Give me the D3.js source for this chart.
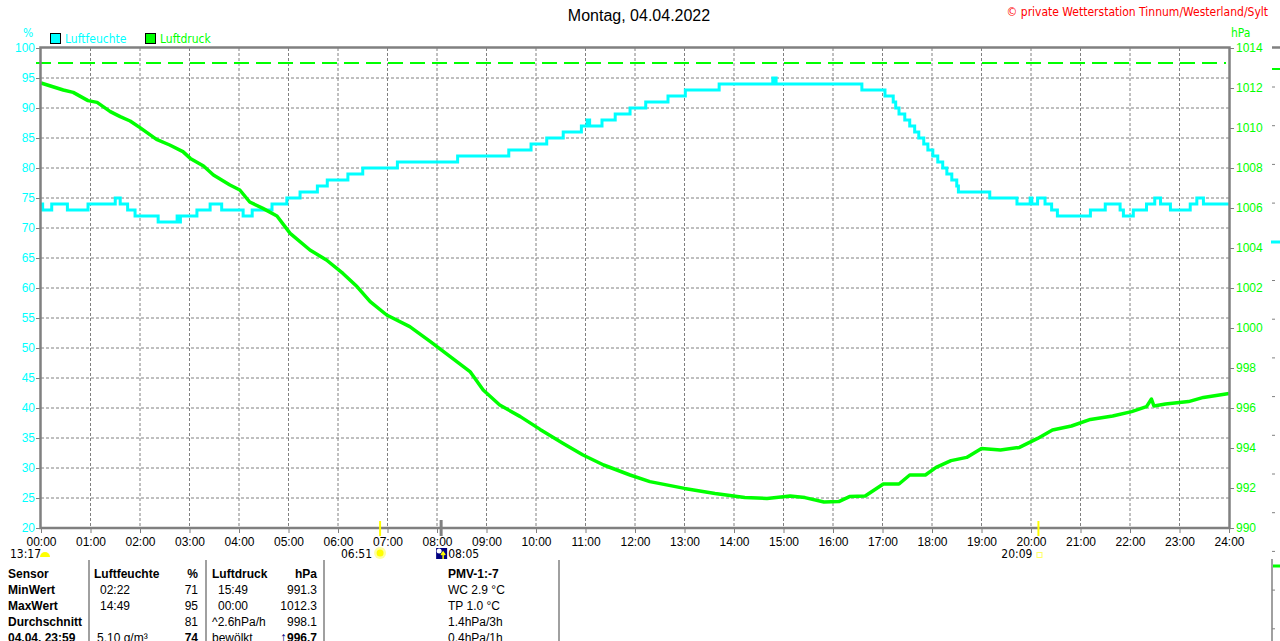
<!DOCTYPE html>
<html lang="de">
<head>
<meta charset="utf-8">
<title>Luftfeuchte / Luftdruck - Montag, 04.04.2022</title>
<script src="https://cdn.jsdelivr.net/npm/d3@7"></script>
<style>
  body { margin: 0; background: #fff; overflow: hidden; }
  svg text { font-family: "Liberation Sans", Arial, sans-serif; }
  .narrow { font-family: "Liberation Sans Narrow", "DejaVu Sans Condensed", "Liberation Sans", sans-serif !important; }
</style>
</head>
<body>
<script>

// ---- data ----
var title = "Montag, 04.04.2022";
var credit = "\u00a9 private Wetterstation Tinnum/Westerland/Sylt";

var hourTicks = d3.range(0, 25);           // 00:00 .. 24:00
var humTicks = d3.range(20, 101, 5);       // %
var presTicks = d3.range(990, 1015, 2);    // hPa
var presRef = 1013.25;                     // dashed reference line

// Luftfeuchte (step series, change points)
var humTimes = ["00:00","00:02","00:13","00:32","00:57","01:30","01:36","01:45","01:54","02:22",
  "02:45","02:47","02:49","03:09","03:25","03:39","04:05","04:16","04:40","04:58",
  "05:14","05:35","05:47","06:12","06:30","07:12","08:25","09:27","09:54","10:13",
  "10:33","10:55","11:02","11:05","11:20","11:36","11:54","12:13","12:40","13:01",
  "13:42","14:47","14:48","14:50","14:51","16:35","17:03","17:13","17:16","17:20",
  "17:27","17:33","17:39","17:44","17:50","17:55","18:01","18:07","18:13","18:18",
  "18:24","18:30","18:32","19:10","19:43","19:59","20:01","20:08","20:17","20:25",
  "20:32","21:12","21:30","21:48","21:52","22:04","22:20","22:30","22:37","22:49",
  "23:13","23:21","23:29","24:00"];
var humValues = [74,73,74,73,74,75,74,73,72,71,
  72,71,72,73,74,73,72,73,74,75,
  76,77,78,79,80,81,82,83,84,85,
  86,87,88,87,88,89,90,91,92,93,
  94,95,94,95,94,93,92,91,90,89,
  88,87,86,85,84,83,82,81,80,79,
  78,77,76,75,74,75,74,75,74,73,
  72,73,74,73,72,73,74,75,74,73,
  74,75,74,74];

// Luftdruck
var presTimes = ["00:00","00:27","00:39","00:57","01:08","01:24","01:36","01:48","02:00","02:20",
  "02:36","02:52","03:01","03:17","03:29","03:49","04:01","04:13","04:29","04:46",
  "05:02","05:26","05:46","06:06","06:23","06:39","06:59","07:27","07:52","08:16",
  "08:40","08:56","09:16","09:41","10:05","10:33","10:57","11:22","11:54","12:18",
  "13:00","13:37","14:13","14:40","15:08","15:26","15:49","16:07","16:20","16:39",
  "17:01","17:20","17:33","17:52","18:05","18:23","18:42","19:00","19:23","19:46",
  "20:08","20:26","20:49","21:12","21:39","22:02","22:20","22:26","22:29","22:43",
  "23:11","23:29","24:00"];
var presValues = [1012.25,1011.9,1011.78,1011.37,1011.28,1010.82,1010.57,1010.35,1010.02,1009.43,
  1009.15,1008.82,1008.48,1008.1,1007.65,1007.15,1006.9,1006.3,1005.98,1005.6,
  1004.73,1003.9,1003.4,1002.73,1002.07,1001.32,1000.65,1000.07,999.32,998.57,
  997.82,996.9,996.15,995.57,994.93,994.23,993.65,993.15,992.65,992.32,
  991.98,991.73,991.53,991.48,991.6,991.52,991.3,991.32,991.57,991.6,
  992.2,992.2,992.65,992.65,993.03,993.37,993.53,993.98,993.9,994.03,
  994.48,994.9,995.1,995.43,995.6,995.82,996.07,996.45,996.1,996.2,
  996.32,996.53,996.73];

// Sonne / Mond
var sunrise = "06:51", sunset = "20:09", moonrise = "08:05", moonset = "13:17";

// Tabelle unter der Grafik
var tableHead = ["Sensor", "Luftfeuchte", "%", "Luftdruck", "hPa", "PMV-1:-7"];
var tableRows = [
  ["MinWert", "02:22", "71", "15:49", "991.3", "WC 2.9 \u00b0C"],
  ["MaxWert", "14:49", "95", "00:00", "1012.3", "TP 1.0 \u00b0C"],
  ["Durchschnitt", "", "81", "^2.6hPa/h", "998.1", "1.4hPa/3h"],
  ["04.04.  23:59", "5.10 g/m\u00b3", "74", "bew\u00f6lkt", "996.7", "0.4hPa/1h"]
];
var trendArrow = "\u2191";   // in front of the current pressure

// ---- setup ----
var w = 1280, h = 641;
var cyan = "#00ffff", green = "#00ff00", grey = "#808080";

var toMin = function(s) { return +s.slice(0, 2) * 60 + +s.slice(3); };
var pad = function(n) { return (n < 10 ? "0" : "") + n; };

var x = d3.scaleLinear().domain([0, 1440]).range([41, 1229]);
var yH = d3.scaleLinear().domain([20, 100]).range([528, 48]);
var yP = d3.scaleLinear().domain([990, 1014]).range([528, 48]);

var svg = d3.select("body").append("svg")
  .attr("width", w).attr("height", h);

// title + credit
svg.append("text").attr("x", 639).attr("y", 21)
  .attr("text-anchor", "middle").attr("font-size", 16).attr("fill", "#000")
  .text(title);
svg.append("text").attr("class", "narrow").attr("x", 1268).attr("y", 16)
  .attr("text-anchor", "end").attr("font-size", 12).attr("fill", "#ff0000")
  .text(credit);

// unit labels
svg.append("text").attr("class", "narrow").attr("x", 23).attr("y", 37)
  .attr("font-size", 12).attr("fill", cyan).text("%");
svg.append("text").attr("class", "narrow").attr("x", 1231).attr("y", 37)
  .attr("font-size", 12).attr("fill", green).text("hPa");

// legend
var legend = [{ name: "Luftfeuchte", color: cyan, x: 50 }, { name: "Luftdruck", color: green, x: 145 }];
var lg = svg.selectAll(".legend").data(legend).enter().append("g")
  .attr("transform", function(d) { return "translate(" + d.x + ",33)"; });
lg.append("rect").attr("x", 0.5).attr("y", 0.5).attr("width", 10).attr("height", 10)
  .attr("fill", function(d) { return d.color; }).attr("stroke", "#000");
lg.append("text").attr("class", "narrow").attr("x", 15).attr("y", 9.5)
  .attr("font-size", 12).attr("fill", function(d) { return d.color; })
  .text(function(d) { return d.name; });

// grid
svg.append("g").selectAll("line").data(hourTicks.slice(1, -1)).enter().append("line")
  .attr("x1", function(d) { return x(d * 60); }).attr("x2", function(d) { return x(d * 60); })
  .attr("y1", yH(100)).attr("y2", yH(20))
  .attr("stroke", grey).attr("stroke-dasharray", "3,2");
svg.append("g").selectAll("line").data(humTicks.slice(1, -1)).enter().append("line")
  .attr("x1", x(0)).attr("x2", x(1440))
  .attr("y1", function(d) { return yH(d); }).attr("y2", function(d) { return yH(d); })
  .attr("stroke", grey).attr("stroke-dasharray", "3,2");

// axes
var styleAxis = function(g, color) {
  g.attr("font-size", 12).attr("class", "narrow");
  g.select(".domain").remove();
  g.selectAll(".tick line").attr("stroke", grey);
  g.selectAll(".tick text").attr("fill", color);
};

svg.append("g").attr("transform", "translate(" + x(0) + ",0)")
  .call(d3.axisLeft(yH).tickValues(humTicks).tickFormat(d3.format("d")).tickSize(5).tickPadding(1))
  .call(styleAxis, cyan);

svg.append("g").attr("transform", "translate(" + x(1440) + ",0)")
  .call(d3.axisRight(yP).tickValues(presTicks).tickFormat(d3.format("d")).tickSize(5).tickPadding(2))
  .call(styleAxis, green);

svg.append("g").attr("transform", "translate(0," + yH(20) + ")")
  .call(d3.axisBottom(x).tickValues(hourTicks.map(function(d) { return d * 60; }))
    .tickFormat(function(d) { return pad(d / 60) + ":00"; })
    .tickSize(5).tickPadding(4))
  .call(styleAxis, "#000");

// reference pressure line
svg.append("line")
  .attr("x1", x(0) - 5).attr("x2", x(1440) - 3)
  .attr("y1", yP(presRef)).attr("y2", yP(presRef))
  .attr("stroke", green).attr("stroke-width", 2).attr("stroke-dasharray", "15,7");

// humidity
var humData = humTimes.map(function(t, i) { return { t: toMin(t), v: humValues[i] }; });
svg.append("path").datum(humData)
  .attr("fill", "none").attr("stroke", cyan).attr("stroke-width", 3)
  .attr("d", d3.line().curve(d3.curveStepAfter)
    .x(function(d) { return x(d.t); }).y(function(d) { return yH(d.v); }));

// pressure
var presData = presTimes.map(function(t, i) { return { t: toMin(t), v: presValues[i] }; });
svg.append("path").datum(presData)
  .attr("fill", "none").attr("stroke", green).attr("stroke-width", 3.5)
  .attr("stroke-linejoin", "round")
  .attr("d", d3.line().x(function(d) { return x(d.t); }).y(function(d) { return yP(d.v); }));

// frame
svg.append("rect")
  .attr("x", x(0) - 0.5).attr("y", yH(100) - 0.5)
  .attr("width", x(1440) - x(0) + 1).attr("height", yH(20) - yH(100) + 0.5)
  .attr("fill", "none").attr("stroke", grey).attr("stroke-width", 2.5);

// sun / moon markers on the time axis
[sunrise, sunset].forEach(function(t) {
  svg.append("line").attr("x1", x(toMin(t))).attr("x2", x(toMin(t)))
    .attr("y1", 521).attr("y2", 536).attr("stroke", "#ffff00").attr("stroke-width", 2);
});
svg.append("line").attr("x1", x(toMin(moonrise))).attr("x2", x(toMin(moonrise)))
  .attr("y1", 520).attr("y2", 536).attr("stroke", grey).attr("stroke-width", 3);

var astro = svg.append("g").attr("font-size", 12).attr("class", "narrow").attr("fill", "#000");
var ay = 558;

// moonset (left)
astro.append("text").attr("class", "narrow").attr("x", 10).attr("y", ay).text(moonset);
astro.append("path").attr("d", "M40,557 A5,5 0 0 1 50,557 Z").attr("fill", "#ffff00");

// sunrise
var sx = x(toMin(sunrise));
astro.append("text").attr("class", "narrow").attr("x", sx - 8).attr("y", ay)
  .attr("text-anchor", "end").text(sunrise);
astro.append("circle").attr("cx", sx).attr("cy", 553).attr("r", 6).attr("fill", "#ffffa0");
astro.append("circle").attr("cx", sx).attr("cy", 553).attr("r", 3.5).attr("fill", "#ffff00");

// moonrise
var mx = x(toMin(moonrise));
astro.append("rect").attr("x", mx - 5).attr("y", 548).attr("width", 11).attr("height", 11)
  .attr("fill", "#000080");
astro.append("circle").attr("cx", mx - 2).attr("cy", 551).attr("r", 2.5).attr("fill", "#fff");
astro.append("path").attr("d", "M" + (mx + 2) + ",559 V553 M" + (mx) + ",555 L" + (mx + 2) + ",552 L" + (mx + 4) + ",555")
  .attr("stroke", "#ffff00").attr("stroke-width", 1.5).attr("fill", "none");
astro.append("text").attr("class", "narrow").attr("x", mx + 7).attr("y", ay).text(moonrise);

// sunset
var ux = x(toMin(sunset));
astro.append("text").attr("class", "narrow").attr("x", ux - 6).attr("y", ay)
  .attr("text-anchor", "end").text(sunset);
astro.append("rect").attr("x", ux - 1.5).attr("y", 552.5).attr("width", 5).attr("height", 5)
  .attr("fill", "none").attr("stroke", "#ffff66");

// table
var cols = [
  { x: 8, anchor: "start" }, { x: 100, anchor: "start" }, { x: 198, anchor: "end" },
  { x: 218, anchor: "start" }, { x: 317, anchor: "end" }, { x: 448, anchor: "start" }
];
[89, 206, 324, 559].forEach(function(lx) {
  svg.append("line").attr("x1", lx).attr("x2", lx).attr("y1", 560).attr("y2", h)
    .attr("stroke", grey).attr("stroke-width", 1.5);
});

var tbl = svg.append("g").attr("font-size", 12).attr("fill", "#000");
tableHead.forEach(function(s, i) {
  var cx = (i === 1) ? 94 : (i === 3) ? 212 : cols[i].x;
  tbl.append("text").attr("x", cx).attr("y", 578).attr("text-anchor", cols[i].anchor)
    .attr("font-weight", "bold").text(s);
});
tableRows.forEach(function(row, r) {
  row.forEach(function(s, i) {
    var cx = cols[i].x;
    if (r === 3 && i === 1) cx = 97;
    if (r >= 2 && i === 3) cx = 212;
    var bold = (i === 0) || (r === 3 && (i === 2 || i === 4));
    var t = tbl.append("text").attr("x", cx).attr("y", 594 + r * 16)
      .attr("text-anchor", cols[i].anchor)
      .attr("font-weight", bold ? "bold" : "normal");
    if (r === 3 && i === 4) {
      t.append("tspan").attr("fill", "#000080").attr("font-size", 14).text(trendArrow);
      t.append("tspan").text(s);
    } else {
      t.text(s);
    }
  });
});

// neighbouring chart, cut off at the right edge
var nb = svg.append("g");
nb.append("line").attr("x1", 1272).attr("x2", w).attr("y1", yH(100) - 0.5).attr("y2", yH(100) - 0.5)
  .attr("stroke", grey).attr("stroke-width", 2.5);
nb.append("line").attr("x1", 1272).attr("x2", w).attr("y1", 69).attr("y2", 69)
  .attr("stroke", green).attr("stroke-width", 2);
nb.selectAll(".nt").data(d3.range(0, 15)).enter().append("line")
  .attr("x1", 1272).attr("x2", 1279)
  .attr("y1", function(d) { return 87 + d * 38.7; }).attr("y2", function(d) { return 87 + d * 38.7; })
  .attr("stroke", grey).attr("stroke-dasharray", "3,4");
nb.append("line").attr("x1", 1271).attr("x2", w).attr("y1", 242).attr("y2", 242)
  .attr("stroke", cyan).attr("stroke-width", 3);
nb.append("line").attr("x1", 1272).attr("x2", 1272).attr("y1", 559).attr("y2", h)
  .attr("stroke", grey).attr("stroke-width", 1.5);
nb.append("line").attr("x1", 1273).attr("x2", w).attr("y1", 566).attr("y2", 566)
  .attr("stroke", green).attr("stroke-width", 3);

</script>
</body>
</html>
